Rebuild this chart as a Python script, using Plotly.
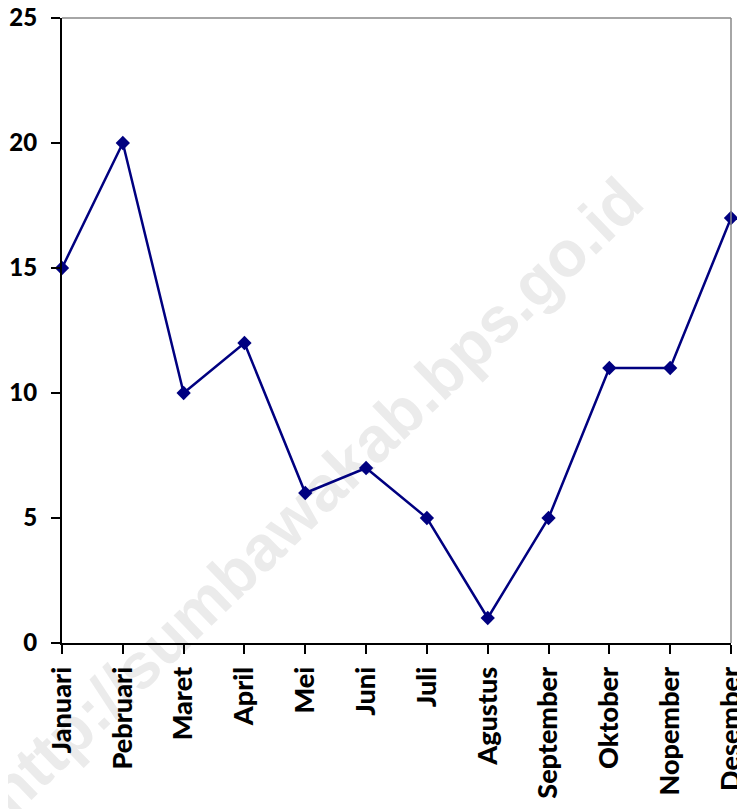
import plotly.graph_objects as go

months = ["Januari", "Pebruari", "Maret", "April", "Mei", "Juni", "Juli",
          "Agustus", "September", "Oktober", "Nopember", "Desember"]
values = [15, 20, 10, 12, 6, 7, 5, 1, 5, 11, 11, 17]
y_ticks = [0, 5, 10, 15, 20, 25]
watermark = "http://sumbawakab.bps.go.id"

x_pos = list(range(len(months)))

fig = go.Figure()
fig.add_trace(go.Scatter(
    x=x_pos, y=values, mode="lines+markers",
    line=dict(color="#000080", width=2.5),
    marker=dict(symbol="diamond", size=11, color="#000080"),
    cliponaxis=False, showlegend=False,
))

x_font = dict(family="Lato, Carlito, Calibri, sans-serif", size=27, color="black", weight=900)
y_font = dict(family="Lato, Carlito, Calibri, sans-serif", size=24, color="black", weight=900)

fig.update_layout(
    width=737, height=801,
    margin=dict(l=54, r=14, t=10, b=166, autoexpand=False),
    paper_bgcolor="white", plot_bgcolor="white",
    xaxis=dict(
        range=[0, len(months) - 1], tickvals=x_pos, ticktext=months,
        tickangle=-90, tickfont=x_font, automargin=False,
        ticklabeloverflow="allow",
        showgrid=False, zeroline=False,
        showline=True, linecolor="black", linewidth=2,
        ticks="outside", ticklen=9, tickwidth=2, tickcolor="black",
        ticklabelstandoff=2,
    ),
    yaxis=dict(
        range=[0, 25], tickvals=y_ticks, tickfont=y_font, automargin=False,
        ticklabeloverflow="allow",
        showgrid=False, zeroline=False,
        showline=True, linecolor="black", linewidth=2,
        ticks="outside", ticklen=9, tickwidth=2, tickcolor="black",
        ticklabelstandoff=9,
    ),
    shapes=[
        dict(type="line", xref="paper", yref="paper", x0=0, x1=1, y0=1, y1=1,
             line=dict(color="#888888", width=1.5)),
        dict(type="line", xref="paper", yref="paper", x0=1, x1=1, y0=0, y1=1,
             line=dict(color="#888888", width=1.5)),
        dict(type="rect", xref="paper", yref="paper", x0=0.321, x1=0.421, y0=0.192, y1=0.292,
             layer="below", line=dict(width=0), fillcolor="rgba(0,0,0,0)",
             label=dict(text=watermark, textangle=-44, textposition="middle center",
                        font=dict(family="Liberation Sans, Arial, sans-serif", size=64,
                                  color="#ebebeb", weight="bold"))),
    ],
)

fig.write_html("out.html")
